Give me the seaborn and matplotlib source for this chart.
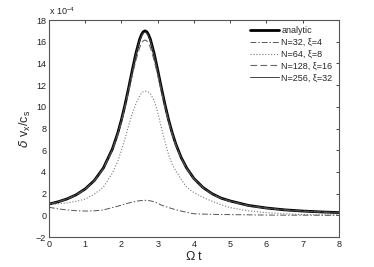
import numpy as np
import pandas as pd
import matplotlib
matplotlib.use('Agg')
import matplotlib.pyplot as plt
import seaborn as sns

# time axis (Omega t) and curves, values in units of 1e-4
t = [0, 0.25, 0.5, 0.75, 1.0, 1.25, 1.5, 1.75, 1.9, 2.0, 2.1, 2.2, 2.3, 2.4,
     2.5, 2.55, 2.6, 2.65, 2.7, 2.75, 2.8, 2.9, 3.0, 3.1, 3.2, 3.3, 3.4, 3.5,
     3.65, 3.8, 4.0, 4.25, 4.5, 4.75, 5.0, 5.5, 6.0, 6.5, 7.0, 7.5, 8.0]

analytic = [1.04, 1.25, 1.52, 1.90, 2.44, 3.21, 4.36, 6.12, 7.61, 8.82, 10.22,
            11.77, 13.40, 14.95, 16.20, 16.63, 16.91, 17.0, 16.91, 16.63, 16.20,
            14.95, 13.40, 11.77, 10.22, 8.82, 7.61, 6.57, 5.32, 4.36, 3.40, 2.57,
            2.0, 1.59, 1.33, 0.92, 0.68, 0.51, 0.40, 0.32, 0.26]
n32 = [0.75, 0.6, 0.5, 0.43, 0.4, 0.42, 0.5, 0.72, 0.85, 0.95, 1.05, 1.14, 1.22,
       1.3, 1.35, 1.37, 1.38, 1.39, 1.38, 1.36, 1.34, 1.26, 1.12, 0.95, 0.83,
       0.72, 0.62, 0.52, 0.4, 0.28, 0.15, 0.12, 0.1, 0.08, 0.07, 0.05, 0.03,
       0.02, 0.02, 0.01, 0.0]
n64 = [1.0, 1.07, 1.15, 1.3, 1.5, 1.95, 2.6, 3.9, 5.0, 6.0, 7.1, 8.3, 9.4, 10.3,
       11.0, 11.25, 11.4, 11.45, 11.43, 11.35, 11.2, 10.6, 9.5, 8.1, 6.8, 5.6,
       4.7, 4.1, 3.3, 2.6, 2.1, 1.65, 1.3, 0.98, 0.72, 0.42, 0.25, 0.15, 0.08,
       0.06, 0.05]
n128 = [1.03, 1.24, 1.51, 1.88, 2.41, 3.17, 4.3, 6.02, 7.45, 8.63, 9.98, 11.45,
        12.95, 14.3, 15.45, 15.83, 16.08, 16.15, 16.08, 15.83, 15.45, 14.3,
        12.95, 11.45, 9.98, 8.63, 7.45, 6.45, 5.23, 4.3, 3.36, 2.54, 1.97, 1.57,
        1.3, 0.9, 0.66, 0.5, 0.39, 0.31, 0.25]
n256 = [1.04, 1.25, 1.52, 1.9, 2.43, 3.2, 4.34, 6.1, 7.58, 8.78, 10.17, 11.7,
        13.32, 14.85, 16.1, 16.52, 16.8, 16.88, 16.8, 16.52, 16.1, 14.85, 13.32,
        11.7, 10.17, 8.78, 7.58, 6.55, 5.3, 4.35, 3.39, 2.56, 1.99, 1.58, 1.32,
        0.91, 0.67, 0.5, 0.4, 0.32, 0.26]

labels = ['analytic', 'N=32, ξ=4', 'N=64, ξ=8', 'N=128, ξ=16', 'N=256, ξ=32']

sns.set_style('white')
plt.rcParams['font.family'] = ['Liberation Sans', 'DejaVu Sans']
plt.rcParams['mathtext.fontset'] = 'custom'
plt.rcParams['mathtext.rm'] = 'Liberation Sans'

fig = plt.figure(figsize=(3.74, 2.67), dpi=100)
ax = fig.add_axes([0.131, 0.112, 0.775, 0.813])

sns.lineplot(x=t, y=analytic, ax=ax, color='black', linewidth=2.0, label=labels[0])
sns.lineplot(x=t, y=n32, ax=ax, color='#555555', linewidth=0.7, label=labels[1])
sns.lineplot(x=t, y=n64, ax=ax, color='#777777', linewidth=0.8, label=labels[2])
sns.lineplot(x=t, y=n128, ax=ax, color='#666666', linewidth=0.8, label=labels[3])
sns.lineplot(x=t, y=n256, ax=ax, color='#444444', linewidth=0.7, label=labels[4])
ax.lines[1].set_dashes([6, 2, 1.5, 2])
ax.lines[2].set_linestyle(':')
ax.lines[3].set_dashes([6, 3])

ax.set_xlim(0, 8)
ax.set_ylim(-2, 18)
ax.set_xticks(range(0, 9))
ax.set_yticks(range(-2, 19, 2))
ax.tick_params(direction='in', length=2.5, width=0.6, labelsize=6.5,
               top=True, right=True, colors='#222222', pad=2)
for s in ax.spines.values():
    s.set_color('#555555')
    s.set_linewidth(0.8)

ax.set_xlabel(r'$\Omega$ t', fontsize=9, labelpad=1)
ax.set_ylabel(r'$\delta$ v$_{\rm x}$/c$_{\rm s}$', fontsize=9, labelpad=2)
ax.text(0.0, 1.012, r'x 10$^{-4}$', transform=ax.transAxes, fontsize=6.5,
        ha='left', va='bottom')

leg = ax.legend(loc='upper right', frameon=False, fontsize=6.5,
                handlelength=3.2, handletextpad=0.3, labelspacing=0.3,
                borderaxespad=0.3)

fig.savefig('out.png', dpi=100)
